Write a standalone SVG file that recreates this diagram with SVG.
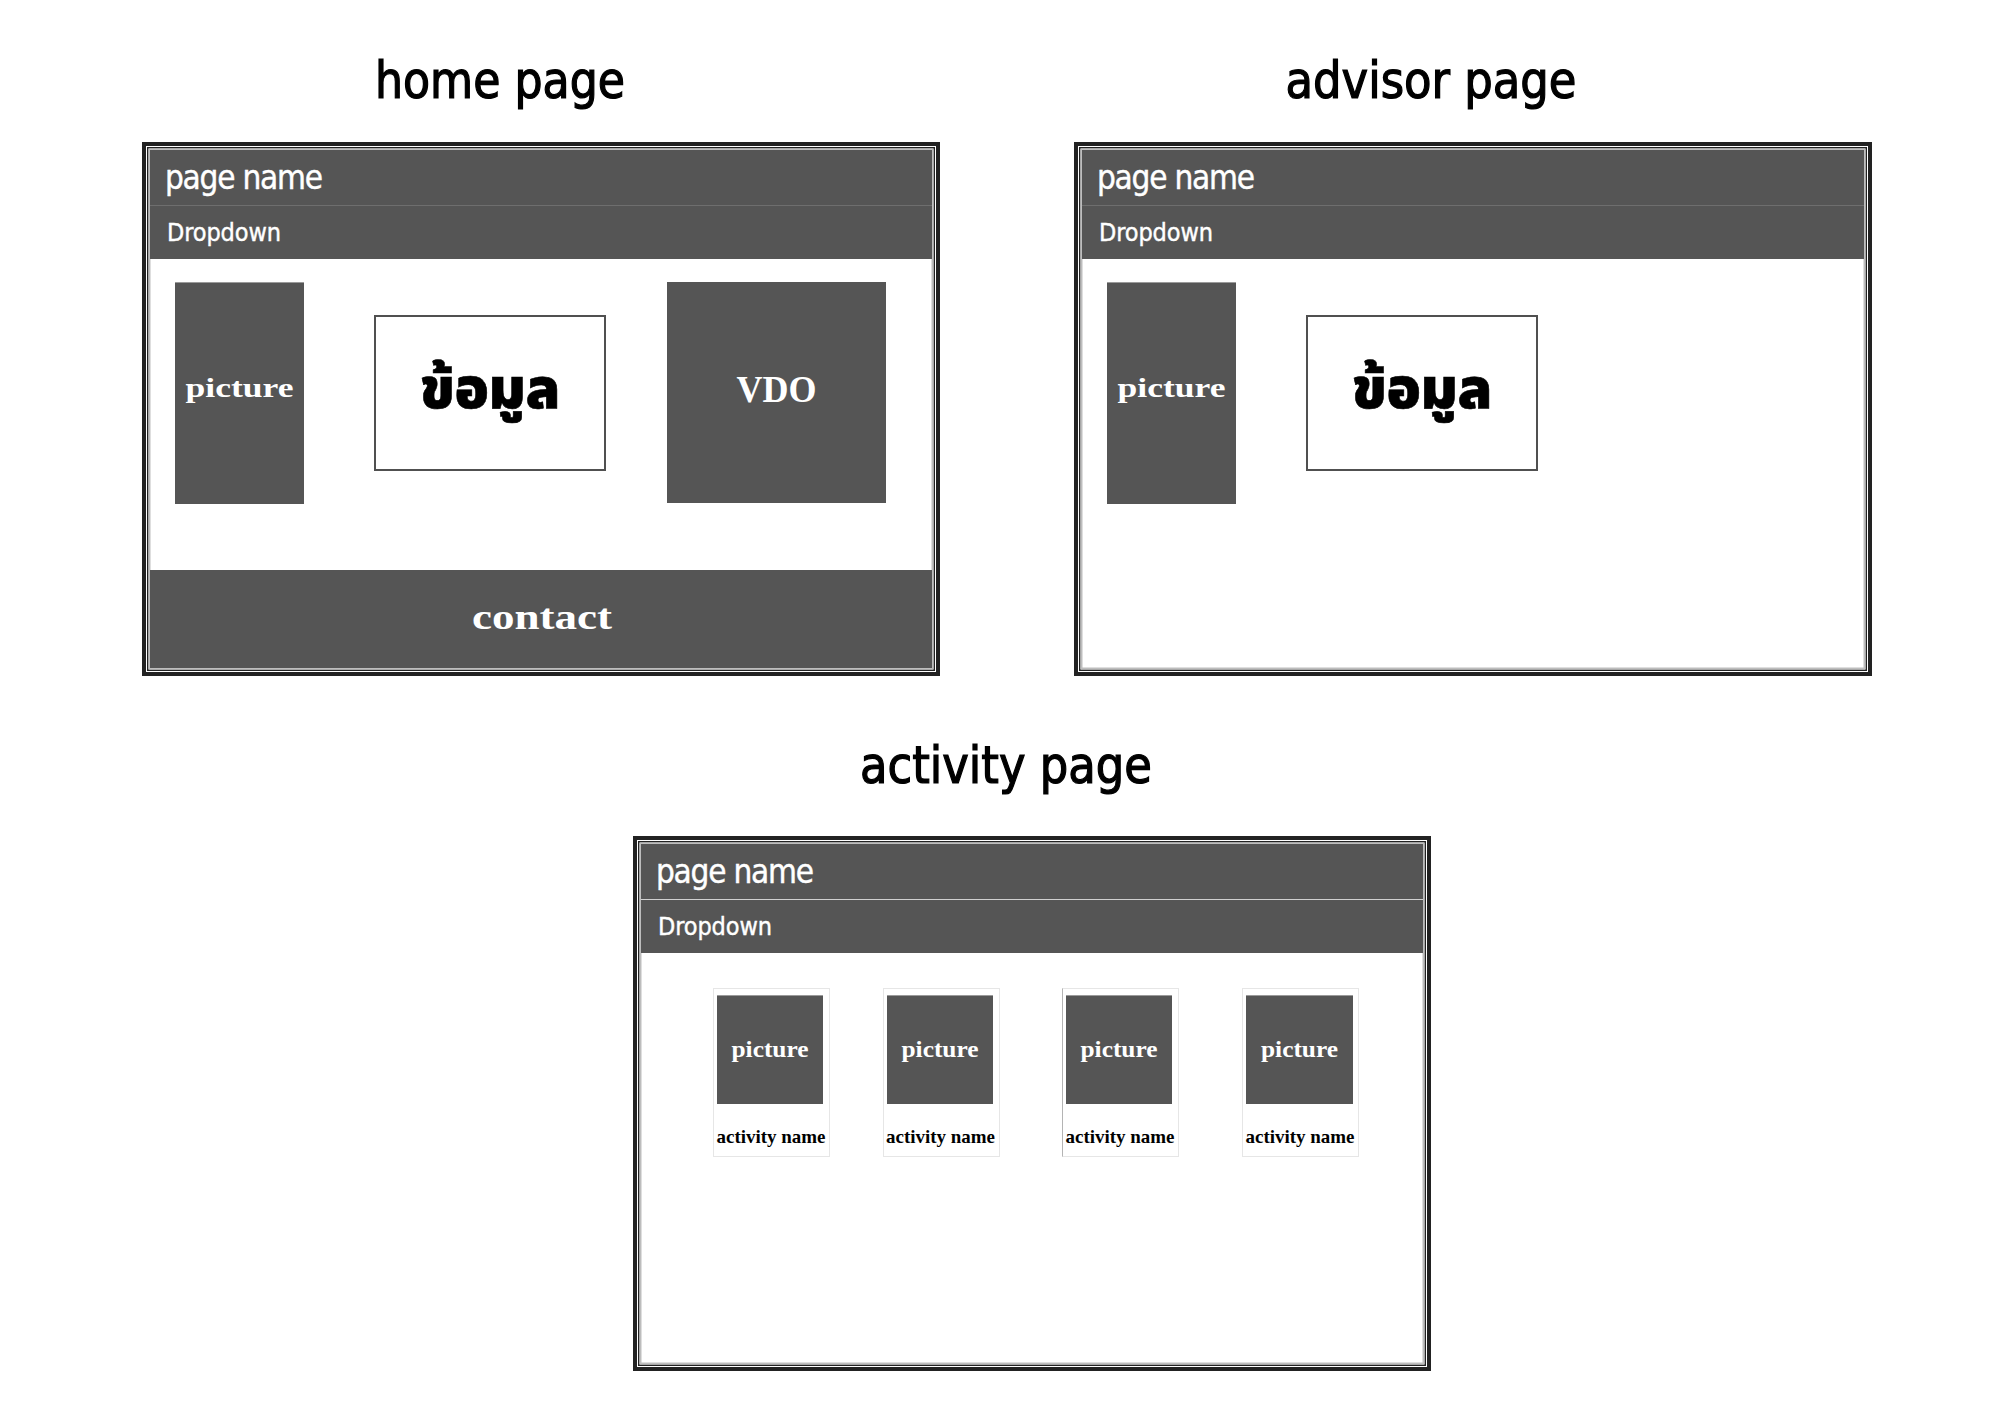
<svg xmlns="http://www.w3.org/2000/svg" width="2000" height="1414" viewBox="0 0 2000 1414">
  <style>
    .title { font-family: "DejaVu Sans Condensed", "DejaVu Sans", "Liberation Sans", sans-serif; font-stretch: condensed; font-size: 51px; fill: #000; stroke: #000; stroke-width: 1.2; text-anchor: middle; }
    .pname { font-family: "DejaVu Sans Condensed", "DejaVu Sans", "Liberation Sans", sans-serif; font-stretch: condensed; font-size: 33px; fill: #fff; stroke: #fff; stroke-width: 0.4; }
    .dd { font-family: "DejaVu Sans Condensed", "DejaVu Sans", "Liberation Sans", sans-serif; font-stretch: condensed; font-size: 25px; fill: #fff; stroke: #fff; stroke-width: 0.4; }
    .serif { font-family: "Liberation Serif", "DejaVu Serif", serif; font-weight: bold; fill: #fff; text-anchor: middle; }
    .thai { font-family: "Noto Sans Thai", "Noto Sans Thai UI", "Loma", "Garuda", "Noto Sans", "DejaVu Sans", sans-serif; font-weight: 900; font-size: 56px; fill: #000; stroke: #000; stroke-width: 0.6; text-anchor: middle; }
    .aname { font-family: "Liberation Serif", "DejaVu Serif", serif; font-weight: bold; font-size: 19px; fill: #000; text-anchor: middle; }
    .outer { fill: #fff; stroke: #222; stroke-width: 4; }
    .inner { fill: none; stroke: #222; stroke-width: 1.5; }
    .rim { fill: none; stroke: #bdbdbd; stroke-width: 2; }
    .bar { fill: #555; }
    .block { fill: #555; }
    .info { fill: #fff; stroke: #505050; stroke-width: 2; }
    .card { fill: #fff; stroke: #e6e6e6; stroke-width: 1; }
  </style>

  <rect width="2000" height="1414" fill="#fff"/>

  <!-- page titles -->
  <text class="title" x="500" y="98" textLength="250" lengthAdjust="spacingAndGlyphs">home page</text>
  <text class="title" x="1431" y="98" textLength="291" lengthAdjust="spacingAndGlyphs">advisor page</text>
  <text class="title" x="1006" y="783" textLength="292" lengthAdjust="spacingAndGlyphs">activity page</text>

  <!-- home page frame -->
  <g id="home-page">
    <rect class="outer" x="144" y="144" width="794" height="530"/>
    <rect class="inner" x="147.75" y="147.75" width="786.5" height="522.5"/>
    <rect class="rim" x="149.5" y="149.5" width="783" height="519"/>
    <rect class="bar" x="150" y="150" width="782" height="55"/>
    <rect class="bar" x="150" y="206" width="782" height="53"/>
    <line x1="150" y1="205.5" x2="932" y2="205.5" stroke="#6e6e6e" stroke-width="1"/>
    <text class="pname" x="165" y="189" textLength="158">page name</text>
    <text class="dd" x="167" y="241" textLength="114">Dropdown</text>

    <g id="home-picture">
      <rect class="block" x="175" y="282" width="129" height="222"/>
      <line x1="175" y1="282.5" x2="304" y2="282.5" stroke="#9a9a9a"/>
      <text class="serif" x="239.5" y="397" font-size="28" textLength="108" lengthAdjust="spacingAndGlyphs">picture</text>
    </g>
    <g id="home-info">
      <rect class="info" x="375" y="316" width="230" height="154"/>
      <text class="thai" x="490" y="408">ข้อมูล</text>
    </g>
    <g id="home-vdo">
      <rect class="block" x="667" y="282" width="219" height="221"/>
      <text class="serif" x="776.5" y="402" font-size="38" textLength="80" lengthAdjust="spacingAndGlyphs">VDO</text>
    </g>
    <g id="home-contact">
      <rect class="bar" x="150" y="570" width="782" height="98"/>
      <text class="serif" x="542" y="629" font-size="36" textLength="140" lengthAdjust="spacingAndGlyphs">contact</text>
    </g>
  </g>

  <!-- advisor page frame -->
  <g id="advisor-page">
    <rect class="outer" x="1076" y="144" width="794" height="530"/>
    <rect class="inner" x="1079.75" y="147.75" width="786.5" height="522.5"/>
    <rect class="rim" x="1081.5" y="149.5" width="783" height="519"/>
    <rect class="bar" x="1082" y="150" width="782" height="55"/>
    <rect class="bar" x="1082" y="206" width="782" height="53"/>
    <line x1="1082" y1="205.5" x2="1864" y2="205.5" stroke="#6e6e6e" stroke-width="1"/>
    <text class="pname" x="1097" y="189" textLength="158">page name</text>
    <text class="dd" x="1099" y="241" textLength="114">Dropdown</text>

    <g id="advisor-picture">
      <rect class="block" x="1107" y="282" width="129" height="222"/>
      <line x1="1107" y1="282.5" x2="1236" y2="282.5" stroke="#9a9a9a"/>
      <text class="serif" x="1171.5" y="397" font-size="28" textLength="108" lengthAdjust="spacingAndGlyphs">picture</text>
    </g>
    <g id="advisor-info">
      <rect class="info" x="1307" y="316" width="230" height="154"/>
      <text class="thai" x="1422" y="408">ข้อมูล</text>
    </g>
  </g>

  <!-- activity page frame -->
  <g id="activity-page">
    <rect class="outer" x="635" y="838" width="794" height="531"/>
    <rect class="inner" x="638.75" y="841.75" width="786.5" height="523.5"/>
    <rect class="rim" x="640.5" y="843.5" width="783" height="520"/>
    <rect class="bar" x="641" y="844" width="782" height="55"/>
    <rect class="bar" x="641" y="900" width="782" height="53"/>
    <line x1="641" y1="899.5" x2="1423" y2="899.5" stroke="#d0d0d0" stroke-width="1"/>
    <text class="pname" x="656" y="883" textLength="158">page name</text>
    <text class="dd" x="658" y="935" textLength="114">Dropdown</text>

    <g id="activity-card-1">
      <rect class="card" x="713.5" y="988.5" width="116" height="168"/>
      <rect class="block" x="717" y="995" width="106" height="109"/>
      <line x1="717" y1="995.5" x2="823" y2="995.5" stroke="#9a9a9a"/>
      <text class="serif" x="770" y="1057" font-size="24" textLength="77" lengthAdjust="spacingAndGlyphs">picture</text>
      <text class="aname" x="771" y="1143" textLength="109" lengthAdjust="spacingAndGlyphs">activity name</text>
    </g>
    <g id="activity-card-2">
      <rect class="card" x="883.5" y="988.5" width="116" height="168"/>
      <rect class="block" x="887" y="995" width="106" height="109"/>
      <line x1="887" y1="995.5" x2="993" y2="995.5" stroke="#9a9a9a"/>
      <text class="serif" x="940" y="1057" font-size="24" textLength="77" lengthAdjust="spacingAndGlyphs">picture</text>
      <text class="aname" x="940.5" y="1143" textLength="109" lengthAdjust="spacingAndGlyphs">activity name</text>
    </g>
    <g id="activity-card-3">
      <rect class="card" x="1062.5" y="988.5" width="116" height="168"/>
      <line x1="1062.5" y1="988.5" x2="1062.5" y2="1156.5" stroke="#b4b4b4" stroke-width="1"/>
      <rect class="block" x="1066" y="995" width="106" height="109"/>
      <line x1="1066" y1="995.5" x2="1172" y2="995.5" stroke="#9a9a9a"/>
      <text class="serif" x="1119" y="1057" font-size="24" textLength="77" lengthAdjust="spacingAndGlyphs">picture</text>
      <text class="aname" x="1120" y="1143" textLength="109" lengthAdjust="spacingAndGlyphs">activity name</text>
    </g>
    <g id="activity-card-4">
      <rect class="card" x="1242.5" y="988.5" width="116" height="168"/>
      <rect class="block" x="1246" y="995" width="107" height="109"/>
      <line x1="1246" y1="995.5" x2="1353" y2="995.5" stroke="#9a9a9a"/>
      <text class="serif" x="1299.5" y="1057" font-size="24" textLength="77" lengthAdjust="spacingAndGlyphs">picture</text>
      <text class="aname" x="1300" y="1143" textLength="109" lengthAdjust="spacingAndGlyphs">activity name</text>
    </g>
  </g>

  <!-- no connectors in this layout -->
  <g id="connectors"/>
</svg>
